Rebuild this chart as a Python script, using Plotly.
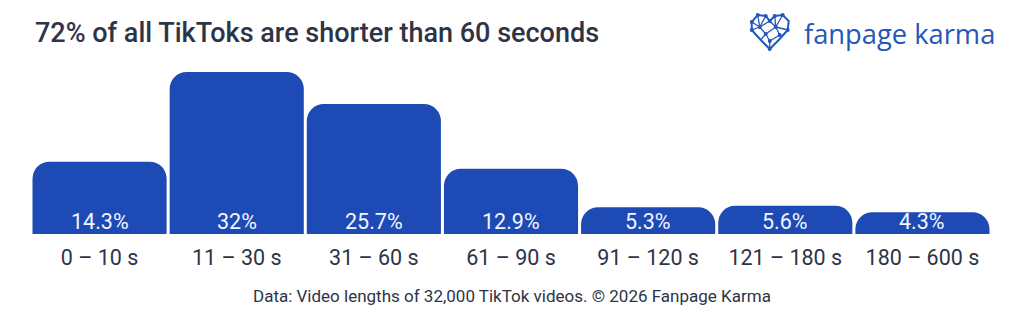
import plotly.graph_objects as go

categories = ["0 – 10 s", "11 – 30 s", "31 – 60 s", "61 – 90 s", "91 – 120 s", "121 – 180 s", "180 – 600 s"]
values = [14.3, 32, 25.7, 12.9, 5.3, 5.6, 4.3]
value_labels = ["14.3%", "32%", "25.7%", "12.9%", "5.3%", "5.6%", "4.3%"]

BAR = "#1d4ab4"
DARK = "#2d3446"
LOGO = "#2557bb"

W, H = 1024, 320
L, R, T, B = 30.5, 32.5, 60, 86
pw, ph = W - L - R, H - T - B

def px(x):
    return (x - L) / pw

def py(y):
    return (H - B - y) / ph

fig = go.Figure()
fig.add_trace(go.Bar(
    x=categories, y=values, marker=dict(color=BAR, line=dict(width=0)),
    hoverinfo="skip",
))

annotations = []
for c, lab in zip(categories, value_labels):
    annotations.append(dict(x=c, y=0, xref="x", yref="y", text=lab, showarrow=False,
                            yanchor="bottom", yshift=-2,
                            font=dict(family="Roboto", size=21.5, color="#f2f5fc")))

annotations.append(dict(x=px(33), y=py(33), xref="paper", yref="paper",
                        text="72% of all TikToks are shorter than 60 seconds",
                        showarrow=False, xanchor="left", yanchor="middle",
                        font=dict(family="Roboto", size=27, color=DARK, weight=500)))
annotations.append(dict(x=px(802), y=py(33), xref="paper", yref="paper",
                        text="fanpage karma", showarrow=False, xanchor="left", yanchor="middle",
                        font=dict(family="Open Sans", size=27.3, color=LOGO)))
annotations.append(dict(x=px(512), y=py(296), xref="paper", yref="paper",
                        text="Data: Video lengths of 32,000 TikTok videos. © 2026 Fanpage Karma",
                        showarrow=False, xanchor="center", yanchor="middle",
                        font=dict(family="Roboto", size=17, color=DARK)))

shapes = []
# heart logo outline
outline = [(752, 22), (758, 15), (766, 16), (770, 21), (775, 16), (783, 15), (789, 21),
           (788, 30), (779, 40), (770, 49), (761, 40), (752, 30), (752, 22)]
path = "M " + " L ".join(f"{px(x):.5f},{py(y):.5f}" for x, y in outline)
shapes.append(dict(type="path", path=path, xref="paper", yref="paper",
                   line=dict(color=LOGO, width=2)))
inner = [((758, 15), (760, 27)), ((766, 16), (760, 27)), ((760, 27), (770, 21)),
         ((760, 27), (766, 34)), ((752, 22), (760, 27)), ((770, 21), (776, 27)),
         ((775, 16), (776, 27)), ((783, 15), (776, 27)), ((776, 27), (788, 30)),
         ((766, 34), (776, 27)), ((766, 34), (770, 41)), ((776, 27), (780, 35)),
         ((770, 41), (780, 35)), ((761, 40), (766, 34)), ((770, 41), (770, 49)),
         ((752, 30), (760, 27))]
for (x0, y0), (x1, y1) in inner:
    shapes.append(dict(type="line", xref="paper", yref="paper",
                       x0=px(x0), y0=py(y0), x1=px(x1), y1=py(y1),
                       line=dict(color=LOGO, width=1.3)))
nodes = [(758, 15), (766, 16), (770, 21), (775, 16), (783, 15), (760, 27), (776, 27),
         (766, 34), (780, 35), (770, 41), (770, 49), (752, 22), (752, 30), (788, 30)]
for x, y in nodes:
    r = 2
    shapes.append(dict(type="circle", xref="paper", yref="paper",
                       x0=px(x - r), x1=px(x + r), y0=py(y + r), y1=py(y - r),
                       fillcolor=LOGO, line=dict(width=0)))

fig.update_layout(
    width=W, height=H,
    margin=dict(l=L, r=R, t=T, b=B, pad=0),
    paper_bgcolor="white", plot_bgcolor="white",
    bargap=0.022, barcornerradius=17,
    showlegend=False,
    xaxis=dict(showgrid=False, zeroline=False, showline=False, ticks="",
               tickfont=dict(family="Roboto", size=21.5, color=DARK),
               ticklabelstandoff=8,
               range=[-0.5, 6.5], fixedrange=True),
    yaxis=dict(visible=False, range=[0, ph / 5.06], fixedrange=True),
    annotations=annotations, shapes=shapes,
)

fig.write_html("out.html")
